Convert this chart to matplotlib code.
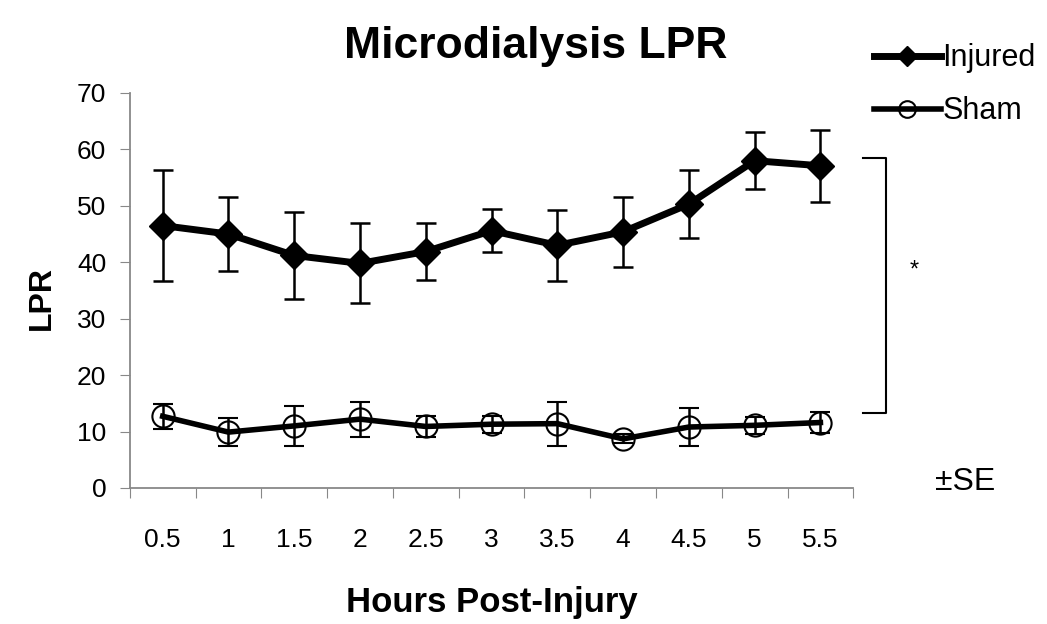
import matplotlib
matplotlib.use("Agg")
import matplotlib.pyplot as plt
import numpy as np

plt.rcParams['font.family'] = ['Liberation Sans', 'DejaVu Sans']

# data (LPR, mean and SE)
hours = ['0.5', '1', '1.5', '2', '2.5', '3', '3.5', '4', '4.5', '5', '5.5']
injured = [46.5, 45.0, 41.2, 39.8, 41.9, 45.6, 43.0, 45.4, 50.3, 58.0, 57.1]
injured_se = [9.8, 6.5, 7.7, 7.1, 5.0, 3.8, 6.3, 6.2, 6.0, 5.1, 6.4]
sham = [12.7, 9.9, 11.0, 12.2, 10.9, 11.3, 11.4, 8.7, 10.8, 11.1, 11.6]
sham_se = [2.2, 2.5, 3.5, 3.1, 1.8, 1.5, 3.9, 0.8, 3.3, 1.5, 1.8]

fig = plt.figure(figsize=(10.47, 6.24), dpi=100)
ax = fig.add_axes([0.124, 0.218, 0.691, 0.633])

x = np.arange(len(hours)) + 0.5

eb1 = ax.errorbar(x, injured, yerr=injured_se, color='black', lw=5, marker='D', ms=14,
                  ecolor='black', elinewidth=1.8, capsize=7, capthick=1.8)
eb2 = ax.errorbar(x, sham, yerr=sham_se, color='black', lw=4, marker='o', ms=16,
                  mfc='none', mec='black', mew=1.5,
                  ecolor='black', elinewidth=1.8, capsize=7, capthick=1.8)

ax.set_xlim(0, len(hours))
ax.set_ylim(0, 70)
ax.set_yticks(range(0, 71, 10))
ax.set_xticks(range(0, len(hours) + 1))
ax.set_xticklabels([])
ax.set_xticks(x, minor=True)
ax.set_xticklabels(hours, minor=True)
ax.tick_params(axis='x', which='minor', length=0, pad=29, labelsize=19)
ax.tick_params(axis='x', which='major', length=7, color='#888888', direction='out')
ax.tick_params(axis='y', length=7, color='#888888', pad=10, labelsize=19)

for s in ['top', 'right']:
    ax.spines[s].set_visible(False)
for s in ['left', 'bottom']:
    ax.spines[s].set_color('#888888')
    ax.spines[s].set_linewidth(1.3)

ax.set_ylabel('LPR', fontsize=23, fontweight='bold', va='center')
ax.yaxis.set_label_coords(-0.122, 0.48)
ax.set_xlabel('Hours Post-Injury', fontsize=25, fontweight='bold', va='center')
ax.xaxis.set_label_coords(0.5, -0.291)
fig.suptitle('Microdialysis LPR', fontsize=32, fontweight='bold', x=0.512, y=0.925,
             va='center')

leg = ax.legend([eb1[0], eb2[0]], ['Injured', 'Sham'], loc='upper left',
                bbox_to_anchor=(0.99, 1.195), frameon=False,
                fontsize=22, handlelength=2.2, handletextpad=0.05, labelspacing=0.75,
                markerscale=0.75)

# significance bracket
bx = 11.5
ax.plot([bx - 0.35, bx, bx, bx - 0.35], [58.5, 58.5, 13.3, 13.3], color='black',
        lw=1.5, clip_on=False)
ax.text(bx + 0.42, 38.5, '*', fontsize=17, ha='center', va='center')
ax.text(12.7, 1.0, '±SE', fontsize=23, ha='center', va='center')

fig.savefig('out.png', dpi=100)
